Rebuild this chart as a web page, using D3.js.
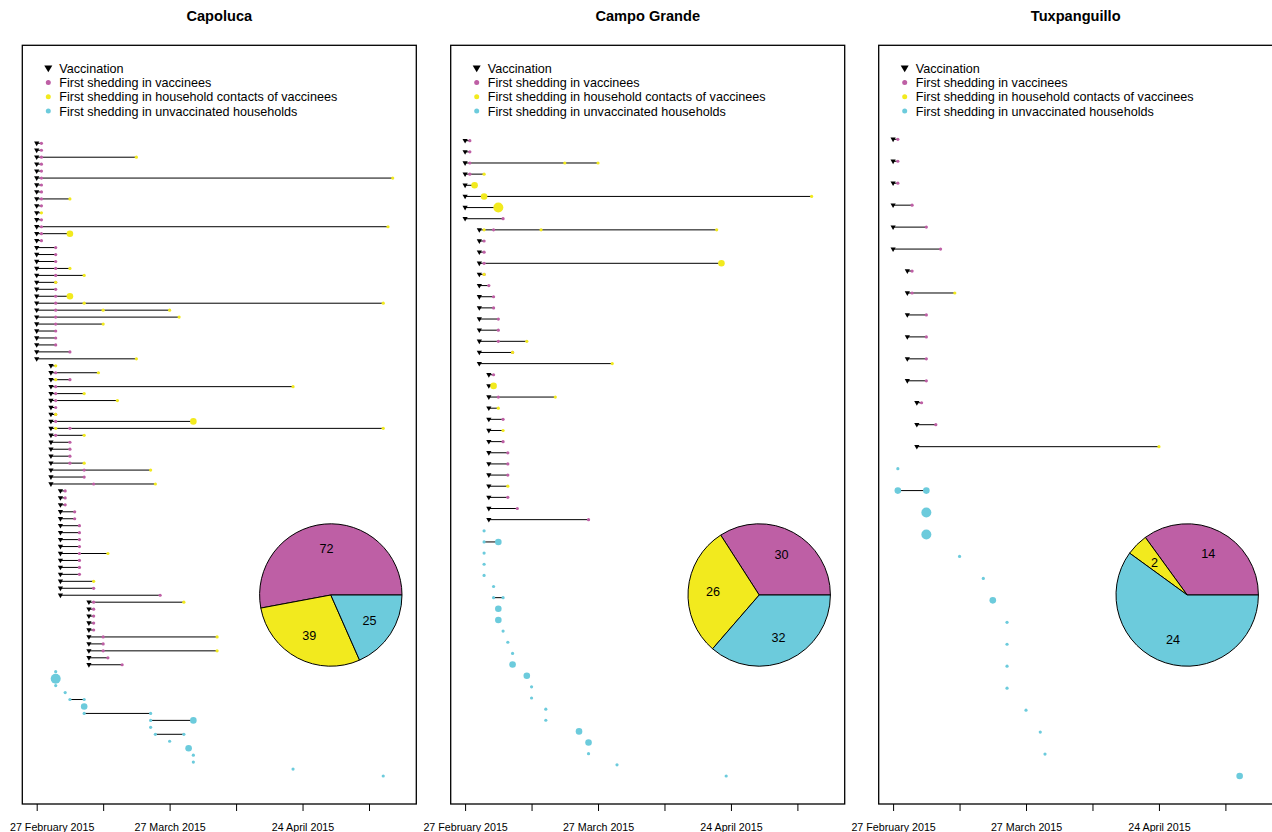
<!DOCTYPE html>
<html>
<head>
<meta charset="utf-8">
<script src="https://cdn.jsdelivr.net/npm/d3@7"></script>
<style>
  body { margin: 0; background: #fff; }
  svg { display: block; font-family: Arial, "Liberation Sans", Helvetica, sans-serif; }
</style>
</head>
<body>
<svg id="chart" width="1272" height="832"></svg>
<script>
// ================= DATA =================
const panelTitles = ["Capoluca", "Campo Grande", "Tuxpanguillo"];
const legendLabels = ["Vaccination", "First shedding in vaccinees", "First shedding in household contacts of vaccinees", "First shedding in unvaccinated households"];
const tickDays = [0, 14, 28, 42, 56, 70];            // days after 27 Feb 2015
const tickLabels = ["27 February 2015", "", "27 March 2015", "", "24 April 2015", ""];
const pieCategories = ["vaccinees", "household contacts", "unvaccinated households"];

// ---- Capoluca ----
const capolucaRowCount = 92;
// vaccination day (days after 27 Feb) for household rows 1..76
const capolucaVaccination = [
  0,0,0,0,0,0,0,0,0,0,0,0,0,0,0,0,0,0,0,0,0,0,0,0,0,0,0,0,0,0,0,0,
  3,3,3,3,3,3,3,3,3,3,3,3,3,3,3,3,3,3,
  5,5,5,5,5,5,5,5,5,5,5,5,5,5,5,5,
  11,11,11,11,11,11,11,11,11,11
];
// [row, day]
const capolucaVaccinees = [
  [1,1],[2,1],[3,1],[4,1],[5,1],[6,1],[7,1],[8,1],[9,1],[10,1],[12,1],[13,1],[14,1],[15,1],
  [16,4],[17,4],[18,4],[19,4],[20,4],[21,4],[22,4],[23,4],[24,4],[25,4],[26,4],[27,4],[28,4],[29,4],[30,4],[31,7],
  [34,4],[35,7],[36,4],[37,4],[38,4],[39,4],[40,4],[41,4],[42,7],[43,4],[44,7],[45,7],[46,7],[47,7],[48,10],[49,10],[50,12],
  [51,6],[52,6],[53,6],[54,8],[55,8],[56,9],[57,9],[58,9],[59,9],[60,9],[61,9],[62,9],[63,9],[65,12],[66,26],
  [67,12],[68,12],[69,12],[70,12],[71,12],[72,14],[73,14],[74,14],[75,15],[76,18]
];
// [row, day, persons]
const capolucaContacts = [
  [3,21,1],[6,75,1],[9,7,1],[11,1,1],[13,74,1],[14,7,2],[19,7,1],[20,10,1],[21,4,1],[23,7,2],
  [24,10,1],[24,73,1],[25,14,1],[25,28,1],[26,30,1],[27,14,1],[32,21,1],[33,4,1],[34,13,1],[35,4,1],
  [36,54,1],[37,10,1],[38,17,1],[40,4,1],[41,33,2],[42,4,1],[42,73,1],[43,10,1],[47,10,1],[48,24,1],
  [50,25,1],[60,15,1],[64,12,1],[67,31,1],[72,38,1],[74,38,1]
];
const capolucaUnvaccinated = [
  [77,4,1],[78,4,3],[79,4,1],[80,6,1],[81,7,1],[81,10,1],[82,10,2],[83,10,1],[83,24,1],[84,24,1],
  [84,33,2],[85,24,1],[86,25,1],[86,31,1],[87,28,1],[88,32,2],[89,33,1],[90,33,1],[91,54,1],[92,73,1]
];
const capolucaPie = [72, 39, 25];

// ---- Campo Grande ----
const campoRowCount = 58;
const campoVaccination = [
  0,0,0,0,0,0,0,0,
  3,3,3,3,3,3,3,3,3,3,3,3,3,
  5,5,5,5,5,5,5,5,5,5,5,5,5,5
];
const campoVaccinees = [
  [1,1],[2,1],[3,1],[4,1],[6,4],[7,7],[8,8],[9,6],[10,4],[11,4],[12,4],[13,4],[14,5],[15,6],[16,6],
  [17,7],[18,7],[19,7],[20,10],[22,6],[23,6],[24,7],[26,8],[28,8],[29,9],[30,9],[31,9],[33,9],[34,11],[35,26]
];
const campoContacts = [
  [3,21,1],[3,28,1],[4,4,1],[5,2,2],[6,4,2],[6,73,1],[7,7,3],[9,4,1],[9,16,1],[9,53,1],
  [12,54,2],[13,4,1],[19,13,1],[20,10,1],[21,31,1],[23,6,2],[24,19,1],[25,7,1],[27,8,1],[32,9,1]
];
const campoUnvaccinated = [
  [36,4,1],[37,4,1],[37,7,2],[38,4,1],[39,4,1],[40,4,1],[41,6,1],[42,6,1],[42,8,1],[43,7,2],
  [44,7,2],[45,8,1],[46,9,1],[47,10,1],[48,10,2],[49,13,2],[50,14,1],[51,14,1],[52,17,1],[53,17,1],
  [54,24,2],[55,26,2],[56,26,1],[57,32,1],[58,55,1]
];
const campoPie = [30, 26, 32];

// ---- Tuxpanguillo ----
const tuxRowCount = 30;
const tuxVaccination = [0,0,0,0,0,0, 3,3,3,3,3,3, 5,5,5];
const tuxVaccinees = [
  [1,1],[2,1],[3,1],[4,4],[5,7],[6,10],[7,4],[8,4],[9,7],[10,7],[11,7],[12,7],[13,6],[14,9]
];
const tuxContacts = [[8,13,1],[15,56,1]];
const tuxUnvaccinated = [
  [16,1,1],[17,1,2],[17,7,2],[18,7,3],[19,7,3],[20,14,1],[21,19,1],[22,21,2],[23,24,1],[24,24,1],
  [25,24,1],[26,24,1],[27,28,1],[28,31,1],[29,32,1],[30,73,2]
];
const tuxPie = [14, 2, 24];

// ================= STYLE / LAYOUT =================
const colVaccinee = "#be5fa5";
const colContact = "#f2ea1e";
const colUnvax = "#6ccbdc";
const pieColors = [colVaccinee, colContact, colUnvax];

const panels = [
  { title: panelTitles[0], rows: capolucaRowCount, firstY: 143.3, vacc: capolucaVaccination, vaccinees: capolucaVaccinees, contacts: capolucaContacts, unvax: capolucaUnvaccinated, pie: capolucaPie },
  { title: panelTitles[1], rows: campoRowCount, firstY: 140.7, vacc: campoVaccination, vaccinees: campoVaccinees, contacts: campoContacts, unvax: campoUnvaccinated, pie: campoPie },
  { title: panelTitles[2], rows: tuxRowCount, firstY: 139.3, vacc: tuxVaccination, vaccinees: tuxVaccinees, contacts: tuxContacts, unvax: tuxUnvaccinated, pie: tuxPie }
];
const panelLeft = [22.3, 450.7, 878.7];
const boxW = 394, boxTop = 45.3, boxBottom = 804, lastRowY = 776;

const svg = d3.select("#chart");
const start = new Date(Date.UTC(2015, 1, 27));
const dayDate = d => d3.utcDay.offset(start, d);
const rScale = d3.scaleLinear().domain([1, 3]).range([1.6, 5]);
const triPath = (w, h) => `M${-w/2},${-h/2}L${w/2},${-h/2}L0,${h/2}Z`;

panels.forEach((p, i) => {
  const g = svg.append("g").attr("transform", `translate(${panelLeft[i]},0)`);
  const x = d3.scaleUtc().domain([dayDate(0), dayDate(70)]).range([14.4, 14.4 + 332.3]);
  const y = d3.scaleLinear().domain([1, p.rows]).range([p.firstY, lastRowY]);

  // title
  g.append("text").attr("x", boxW / 2).attr("y", 21).attr("text-anchor", "middle")
    .attr("font-weight", "bold").attr("font-size", "14.6px").text(p.title);

  // row extents
  const rowDays = new Map();
  const add = (r, d) => { if (!rowDays.has(r)) rowDays.set(r, []); rowDays.get(r).push(d); };
  p.vacc.forEach((d, k) => add(k + 1, d));
  p.vaccinees.forEach(e => add(e[0], e[1]));
  p.contacts.forEach(e => add(e[0], e[1]));
  p.unvax.forEach(e => add(e[0], e[1]));
  const segs = Array.from(rowDays, ([r, ds]) => ({ r, a: d3.min(ds), b: d3.max(ds) })).filter(s => s.b > s.a);

  g.append("g").selectAll("line").data(segs).join("line")
    .attr("x1", s => x(dayDate(s.a))).attr("x2", s => x(dayDate(s.b)))
    .attr("y1", s => y(s.r)).attr("y2", s => y(s.r))
    .attr("stroke", "#000").attr("stroke-width", 1);

  // vaccination triangles
  g.append("g").selectAll("path").data(p.vacc).join("path")
    .attr("d", triPath(5.2, 4.6))
    .attr("transform", (d, k) => `translate(${x(dayDate(d))},${y(k + 1) + 0.6})`)
    .attr("fill", "#000");

  const dots = (arr, col) => g.append("g").selectAll("circle").data(arr).join("circle")
    .attr("cx", e => x(dayDate(e[1]))).attr("cy", e => y(e[0]))
    .attr("r", e => rScale(e[2] || 1)).attr("fill", col);
  dots(p.vaccinees, colVaccinee);
  dots(p.contacts, colContact);
  dots(p.unvax, colUnvax);

  // legend
  const lg = g.append("g");
  const legY = [68.3, 82.5, 96.8, 111];
  lg.append("path").attr("d", triPath(8, 6.8)).attr("transform", `translate(26,${legY[0] + 0.5})`).attr("fill", "#000");
  [colVaccinee, colContact, colUnvax].forEach((c, k) => {
    lg.append("circle").attr("cx", 26).attr("cy", legY[k + 1]).attr("r", 2.5).attr("fill", c);
  });
  legendLabels.forEach((t, k) => {
    lg.append("text").attr("x", 37).attr("y", legY[k]).attr("dy", "0.36em")
      .attr("font-size", "12.6px").text(t);
  });

  // pie
  const cx = 308.5, cy = 595, R = 71.2;
  const pie = d3.pie().sort(null).startAngle(Math.PI / 2).endAngle(Math.PI / 2 - 2 * Math.PI);
  const arcs = pie(p.pie);
  const arc = d3.arc().innerRadius(0).outerRadius(R);
  const labelArc = d3.arc().innerRadius(R * 0.65).outerRadius(R * 0.65);
  const pg = g.append("g").attr("transform", `translate(${cx},${cy})`);
  pg.selectAll("path").data(arcs).join("path")
    .attr("d", arc).attr("fill", (d, k) => pieColors[k])
    .attr("stroke", "#000").attr("stroke-width", 1);
  pg.selectAll("text").data(arcs).join("text")
    .attr("transform", d => `translate(${labelArc.centroid(d)})`)
    .attr("text-anchor", "middle").attr("dy", "0.36em").attr("font-size", "12.6px")
    .text(d => d.data);

  // box
  g.append("rect").attr("x", 0).attr("y", boxTop).attr("width", boxW).attr("height", boxBottom - boxTop)
    .attr("fill", "none").attr("stroke", "#000").attr("stroke-width", 1.3);

  // axis
  const axis = d3.axisBottom(x).tickValues(tickDays.map(dayDate))
    .tickFormat((d, k) => tickLabels[k]).tickSize(7).tickSizeOuter(0);
  const ax = g.append("g").attr("transform", `translate(0,${boxBottom})`).call(axis);
  ax.select(".domain").remove();
  ax.selectAll(".tick line").attr("stroke", "#000");
  ax.selectAll(".tick text").attr("y", 26.5).attr("dy", null).attr("fill", "#000")
    .attr("font-size", "10.7px").attr("font-family", null);
  ax.attr("font-family", null);
  // keep labels inside the figure (as in the original device)
  ax.selectAll(".tick text").each(function () {
    const t = d3.select(this);
    const w = this.getComputedTextLength();
    const tickX = +this.parentNode.getAttribute("transform").match(/translate\(([-\d.]+)/)[1];
    const absLeft = panelLeft[i] + tickX - w / 2;
    if (absLeft < 10) t.attr("x", 10 - absLeft);
  });
});
</script>
</body>
</html>
